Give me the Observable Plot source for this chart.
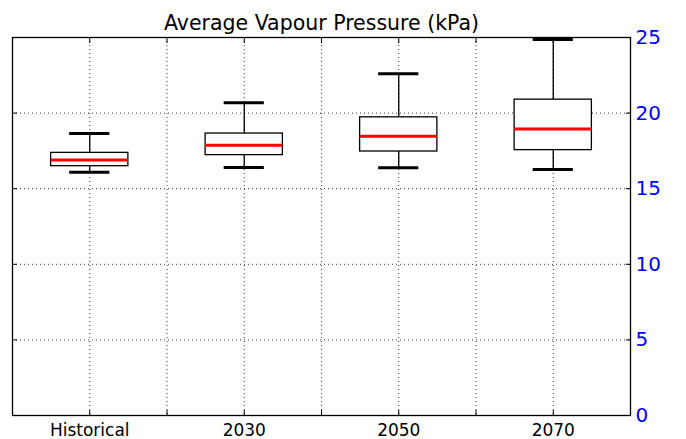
<!DOCTYPE html>
<html><head><meta charset="utf-8">
<script src="https://cdn.jsdelivr.net/npm/d3@7"></script>
<script src="https://cdn.jsdelivr.net/npm/@observablehq/plot@0.6"></script>
<style>body{margin:0;background:#fff;} svg{font-family:"DejaVu Sans",sans-serif;}</style>
</head><body><div id="chart"></div>
<script>
const categories = ["Historical", "2030", "2050", "2070"];
const whiskerLow = [16.08, 16.40, 16.38, 16.27];
const q1 = [16.49, 17.22, 17.46, 17.55];
const median = [16.90, 17.88, 18.47, 18.95];
const q3 = [17.37, 18.65, 19.72, 20.89];
const whiskerHigh = [18.65, 20.69, 22.60, 24.87];
const yTicks = [0, 5, 10, 15, 20, 25];
const title = "Average Vapour Pressure (kPa)";

const data = categories.map((c, i) => ({c, pos: i + 1, lo: whiskerLow[i], q1: q1[i], med: median[i], q3: q3[i], hi: whiskerHigh[i]}));
const xGrid = d3.range(1, 4.01, 0.5);
const yGrid = [5, 10, 15, 20];
const boxHalf = 0.25, capHalf = 0.13;

const chart = Plot.plot({
  width: 686, height: 439,
  marginLeft: 12, marginRight: 56, marginTop: 37, marginBottom: 24,
  x: {domain: [0.5, 4.5], axis: null},
  y: {domain: [0, 25], axis: null},
  marks: [
    Plot.ruleX(xGrid, {stroke: "#000", strokeWidth: 1, strokeDasharray: "1,3", strokeOpacity: 0.8}),
    Plot.ruleY(yGrid, {stroke: "#000", strokeWidth: 1, strokeDasharray: "1,3", strokeOpacity: 0.8}),
    Plot.axisY({anchor: "left", ticks: yTicks, tickSize: -5, text: null, label: null, stroke: "#000"}),
    Plot.axisY({anchor: "right", ticks: yTicks, tickSize: -5, text: null, label: null, stroke: "#000"}),
    Plot.axisX({anchor: "bottom", ticks: xGrid, tickSize: -5, text: null, label: null, stroke: "#000"}),
    Plot.axisX({anchor: "top", ticks: xGrid, tickSize: -5, text: null, label: null, stroke: "#000"}),
    Plot.ruleX(data, {x: "pos", y1: "lo", y2: "q1", stroke: "#000", strokeWidth: 1.3}),
    Plot.ruleX(data, {x: "pos", y1: "q3", y2: "hi", stroke: "#000", strokeWidth: 1.3}),
    Plot.ruleY(data, {y: "lo", x1: d => d.pos - capHalf, x2: d => d.pos + capHalf, stroke: "#000", strokeWidth: 3}),
    Plot.ruleY(data, {y: "hi", x1: d => d.pos - capHalf, x2: d => d.pos + capHalf, stroke: "#000", strokeWidth: 3}),
    Plot.rect(data, {x1: d => d.pos - boxHalf, x2: d => d.pos + boxHalf, y1: "q1", y2: "q3", fill: "#fff", stroke: "#000", strokeWidth: 1.3}),
    Plot.ruleY(data, {y: "med", x1: d => d.pos - boxHalf, x2: d => d.pos + boxHalf, stroke: "#ff0000", strokeWidth: 3}),
    Plot.frame({stroke: "#000", strokeWidth: 1.3}),
    Plot.axisX({anchor: "bottom", ticks: [1, 2, 3, 4], tickFormat: d => categories[d - 1], tickSize: 0, tickPadding: 8, fontSize: 17, fill: "#000", label: null}),
    Plot.axisY({anchor: "right", ticks: yTicks, tickSize: 0, tickPadding: 5, fontSize: 20, fill: "#0000ff", label: null}),
    Plot.text([title], {frameAnchor: "top", lineAnchor: "middle", dy: -14, fontSize: 20.5, fill: "#000"})
  ]
});
document.getElementById("chart").append(chart);
</script>
</body></html>
